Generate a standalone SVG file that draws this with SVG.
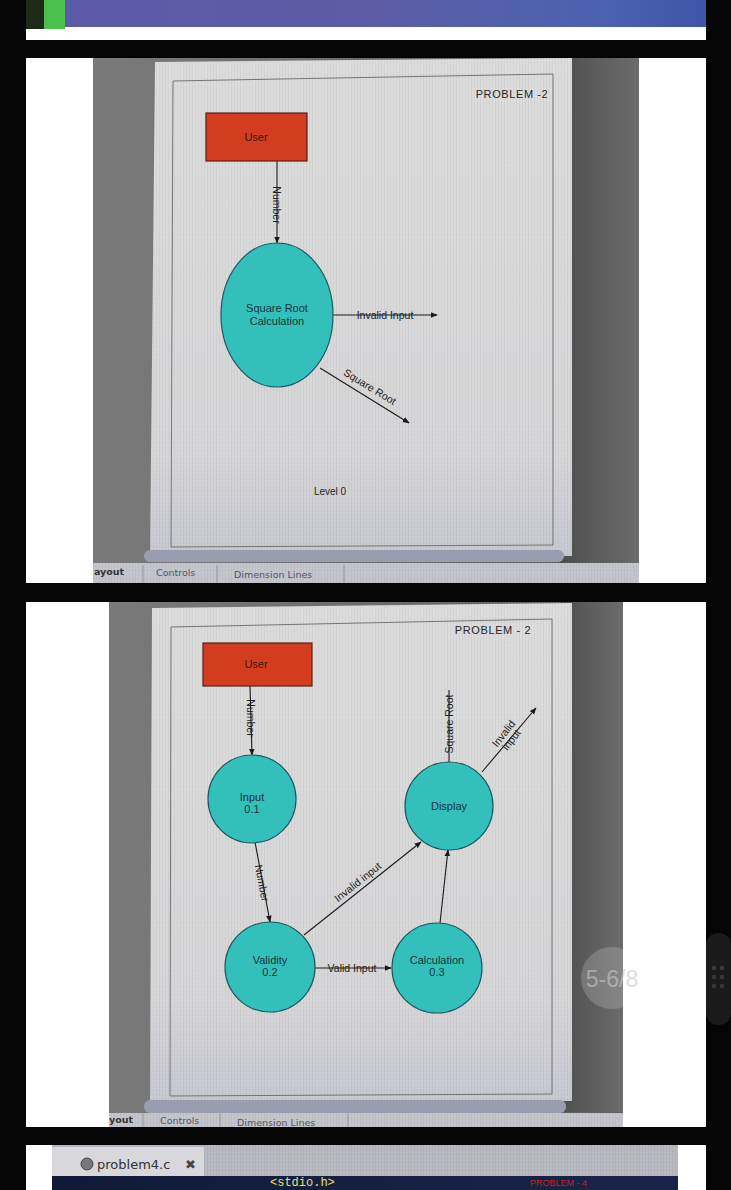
<svg xmlns="http://www.w3.org/2000/svg" width="731" height="1190" viewBox="0 0 731 1190">
  <defs>
    <style>
      .lbl { font-family: "Liberation Sans", Arial, sans-serif; fill: #262626; }
      .node { font-family: "Liberation Sans", Arial, sans-serif; font-size: 11px; fill: #17343a; text-anchor: middle; }
      .flow { font-family: "Liberation Sans", Arial, sans-serif; font-size: 10.5px; fill: #1c1c1c; text-anchor: middle; }
      .tab { font-family: "DejaVu Sans", sans-serif; font-size: 9.5px; fill: #556; }
      .line { stroke: #1a1a1a; stroke-width: 1.1; fill: none; }
      .ent { fill: #d23c1f; stroke: #5a1e14; stroke-width: 1.2; }
      .proc { fill: #34c0ba; stroke: #1d5965; stroke-width: 1.2; }
      .frame { fill: none; stroke: #6a6a6a; stroke-width: 0.9; }
    </style>
    <marker id="arr" viewBox="0 0 10 10" refX="9" refY="5" markerWidth="7" markerHeight="7" orient="auto-start-reverse" markerUnits="userSpaceOnUse">
      <path d="M0,1 L10,5 L0,9 z" fill="#1a1a1a"/>
    </marker>
    <linearGradient id="photoL" x1="0" y1="0" x2="1" y2="0">
      <stop offset="0" stop-color="#7a7a7a"/>
      <stop offset="1" stop-color="#5e5e5e"/>
    </linearGradient>
    <linearGradient id="photoR" x1="0" y1="0" x2="1" y2="0">
      <stop offset="0" stop-color="#4e4e4e"/>
      <stop offset="1" stop-color="#6c6c6c"/>
    </linearGradient>
    <linearGradient id="paperG" x1="0" y1="0" x2="0" y2="1">
      <stop offset="0" stop-color="#dcdcdc"/>
      <stop offset="0.8" stop-color="#d6d6d8"/>
      <stop offset="1" stop-color="#c8c8d2"/>
    </linearGradient>
    <linearGradient id="topBand" x1="0" y1="0" x2="1" y2="0">
      <stop offset="0" stop-color="#5a5aa8"/>
      <stop offset="0.5" stop-color="#5c5ca4"/>
      <stop offset="0.85" stop-color="#4a62b0"/>
      <stop offset="1" stop-color="#3f55a8"/>
    </linearGradient>
    <linearGradient id="codeBg" x1="0" y1="0" x2="1" y2="0">
      <stop offset="0" stop-color="#101a38"/>
      <stop offset="1" stop-color="#1a2448"/>
    </linearGradient>
    <pattern id="grain" width="3" height="4" patternUnits="userSpaceOnUse">
      <rect width="3" height="4" fill="none"/>
      <rect x="0" y="0" width="0.8" height="4" fill="#000" opacity="0.05"/>
      <rect x="0" y="0" width="3" height="0.6" fill="#fff" opacity="0.08"/>
    </pattern>
  </defs>

  <!-- page background -->
  <rect x="0" y="0" width="731" height="1190" fill="#050505"/>

  <!-- top strip: end of the previous page -->
  <g id="top-strip">
    <rect x="26" y="0" width="680" height="40" fill="#ffffff"/>
    <rect x="26" y="0" width="680" height="27" fill="url(#topBand)"/>
    <rect x="26" y="0" width="18" height="29" fill="#1e2a18"/>
    <rect x="44" y="0" width="21" height="29" fill="#4cbf4c"/>
  </g>

  <!-- ===== Level 0 sheet ===== -->
  <g id="sheet-level0">
    <rect x="26" y="58" width="680" height="525" fill="#ffffff"/>
    <rect x="93" y="58" width="546" height="525" fill="url(#photoL)"/>
    <rect x="560" y="58" width="79" height="510" fill="url(#photoR)"/>
    <polygon points="155,62 572,58 572,556 150,556" fill="url(#paperG)"/>
    <polygon points="155,62 572,58 572,556 150,556" fill="url(#grain)"/>
    <polygon class="frame" points="173,81 553,74 553,545 171,547"/>
    <rect x="144" y="550" width="420" height="12" rx="6" fill="#9a9cb0"/>
    <rect x="93" y="563" width="546" height="20" fill="#c4c4cc"/>
    <rect x="93" y="563" width="546" height="20" fill="url(#grain)"/>
    <line x1="143" y1="565" x2="143" y2="583" stroke="#8a8a96" stroke-width="0.8"/>
    <line x1="217" y1="565" x2="217" y2="583" stroke="#8a8a96" stroke-width="0.8"/>
    <line x1="344" y1="565" x2="344" y2="583" stroke="#8a8a96" stroke-width="0.8"/>
    <text x="94" y="575" class="tab" style="font-weight:bold;fill:#333">ayout</text>
    <text x="156" y="576" class="tab">Controls</text>
    <text x="234" y="578" class="tab">Dimension Lines</text>
    <text x="512" y="98" class="lbl" font-size="11" text-anchor="middle" letter-spacing="0.6">PROBLEM -2</text>
    <text x="330" y="495" class="lbl" font-size="10" text-anchor="middle">Level 0</text>
  </g>

  <g id="l0-connectors">
    <line class="line" x1="277" y1="161" x2="277" y2="243" marker-end="url(#arr)"/>
    <text class="flow" transform="translate(277,205) rotate(90)" y="3.8">Number</text>
    <line class="line" x1="333" y1="315" x2="437" y2="315" marker-end="url(#arr)"/>
    <text class="flow" x="385" y="318.8">Invalid Input</text>
    <line class="line" x1="320" y1="368" x2="409" y2="423" marker-end="url(#arr)"/>
    <text class="flow" transform="translate(368,390) rotate(31.5)">Square Root</text>
  </g>

  <g id="l0-user">
    <rect class="ent" x="206" y="113" width="101" height="48"/>
    <text class="node" x="256" y="141" style="fill:#3a1a12">User</text>
  </g>
  <g id="l0-sqrt">
    <ellipse class="proc" cx="277" cy="315" rx="56" ry="72"/>
    <text class="node" x="277" y="312">Square Root</text>
    <text class="node" x="277" y="325">Calculation</text>
  </g>

  <!-- ===== Level 1 sheet ===== -->
  <g id="sheet-level1">
    <rect x="26" y="602" width="680" height="525" fill="#ffffff"/>
    <rect x="109" y="602" width="514" height="525" fill="url(#photoL)"/>
    <rect x="560" y="602" width="63" height="510" fill="url(#photoR)"/>
    <polygon points="152,608 572,603 572,1101 150,1101" fill="url(#paperG)"/>
    <polygon points="152,608 572,603 572,1101 150,1101" fill="url(#grain)"/>
    <polygon class="frame" points="171,627 552,619 552,1094 170,1096"/>
    <rect x="144" y="1100" width="422" height="13" rx="6" fill="#9a9cb0"/>
    <rect x="109" y="1113" width="514" height="14" fill="#c4c4cc"/>
    <rect x="109" y="1113" width="514" height="14" fill="url(#grain)"/>
    <line x1="143" y1="1113" x2="143" y2="1127" stroke="#8a8a96" stroke-width="0.8"/>
    <line x1="220" y1="1113" x2="220" y2="1127" stroke="#8a8a96" stroke-width="0.8"/>
    <line x1="348" y1="1113" x2="348" y2="1127" stroke="#8a8a96" stroke-width="0.8"/>
    <text x="109" y="1123" class="tab" style="font-weight:bold;fill:#333">yout</text>
    <text x="160" y="1124" class="tab">Controls</text>
    <text x="237" y="1126" class="tab">Dimension Lines</text>
    <text x="493" y="634" class="lbl" font-size="11" text-anchor="middle" letter-spacing="0.6">PROBLEM - 2</text>
  </g>

  <g id="l1-connectors">
    <line class="line" x1="250" y1="686" x2="252" y2="755" marker-end="url(#arr)"/>
    <text class="flow" transform="translate(251,718) rotate(90)" y="3.8">Number</text>
    <line class="line" x1="255" y1="842" x2="270" y2="922" marker-end="url(#arr)"/>
    <text class="flow" transform="translate(262,883) rotate(79)" y="3.8">Number</text>
    <line class="line" x1="315" y1="968" x2="391" y2="968" marker-end="url(#arr)"/>
    <text class="flow" x="352" y="971.8">Valid Input</text>
    <line class="line" x1="304" y1="935" x2="421" y2="842" marker-end="url(#arr)"/>
    <text class="flow" transform="translate(360,885) rotate(-38.5)">Invalid input</text>
    <line class="line" x1="440" y1="923" x2="448" y2="850" marker-end="url(#arr)"/>
    <line class="line" x1="449" y1="762" x2="449" y2="690"/>
    <text class="flow" transform="translate(449,724) rotate(-90)" y="3.8">Square Root</text>
    <line class="line" x1="482" y1="772" x2="536" y2="708" marker-end="url(#arr)"/>
    <text class="flow" transform="translate(508,737) rotate(-52)"><tspan x="0" y="-2">Invalid</tspan><tspan x="0" y="8">input</tspan></text>
  </g>

  <g id="l1-user">
    <rect class="ent" x="203" y="643" width="109" height="43"/>
    <text class="node" x="256" y="668" style="fill:#3a1a12">User</text>
  </g>
  <g id="l1-input">
    <circle class="proc" cx="252" cy="799" r="44"/>
    <text class="node" x="252" y="801">Input</text>
    <text class="node" x="252" y="813">0.1</text>
  </g>
  <g id="l1-validity">
    <circle class="proc" cx="270" cy="967" r="45"/>
    <text class="node" x="270" y="964">Validity</text>
    <text class="node" x="270" y="976">0.2</text>
  </g>
  <g id="l1-calculation">
    <circle class="proc" cx="437" cy="968" r="45"/>
    <text class="node" x="437" y="964">Calculation</text>
    <text class="node" x="437" y="976">0.3</text>
  </g>
  <g id="l1-display">
    <circle class="proc" cx="449" cy="806" r="44"/>
    <text class="node" x="449" y="810">Display</text>
  </g>

  <!-- viewer overlay: page counter and side handle -->
  <g id="viewer-overlay">
    <circle cx="612" cy="978" r="31" fill="#ffffff" opacity="0.18"/>
    <text x="612" y="987" font-family="Liberation Sans, Arial, sans-serif" font-size="23" fill="#c8c8cc" text-anchor="middle" opacity="0.6">5-6/8</text>
    <circle cx="712" cy="979" r="34" fill="#ffffff" opacity="0.08"/>
    <rect x="706" y="933" width="25" height="92" rx="12" fill="#1a1a1a"/>
    <g fill="#3a3a3a">
      <circle cx="714" cy="968" r="2.2"/><circle cx="722" cy="968" r="2.2"/>
      <circle cx="714" cy="977" r="2.2"/><circle cx="722" cy="977" r="2.2"/>
      <circle cx="714" cy="986" r="2.2"/><circle cx="722" cy="986" r="2.2"/>
    </g>
  </g>

  <!-- bottom strip: start of the next page -->
  <g id="bottom-strip">
    <rect x="26" y="1145" width="680" height="45" fill="#ffffff"/>
    <rect x="52" y="1145" width="626" height="45" fill="#b8b8c0"/>
    <rect x="52" y="1145" width="626" height="45" fill="url(#grain)"/>
    <rect x="52" y="1147" width="152" height="29" fill="#d8d8dc"/>
    <circle cx="87" cy="1164" r="6" fill="#777" stroke="#444" stroke-width="1"/>
    <text x="97" y="1169" font-family="DejaVu Sans, sans-serif" font-size="13" fill="#333">problem4.c</text>
    <text x="185" y="1169" font-family="DejaVu Sans, sans-serif" font-size="13" font-weight="bold" fill="#444">✖</text>
    <rect x="52" y="1176" width="626" height="14" fill="url(#codeBg)"/>
    <text x="270" y="1186" font-family="Liberation Mono, monospace" font-size="12" fill="#e8e070">&lt;stdio.h&gt;</text>
    <text x="530" y="1186" font-family="Liberation Sans, Arial, sans-serif" font-size="9" fill="#cc2020">PROBLEM - 4</text>
  </g>
</svg>
